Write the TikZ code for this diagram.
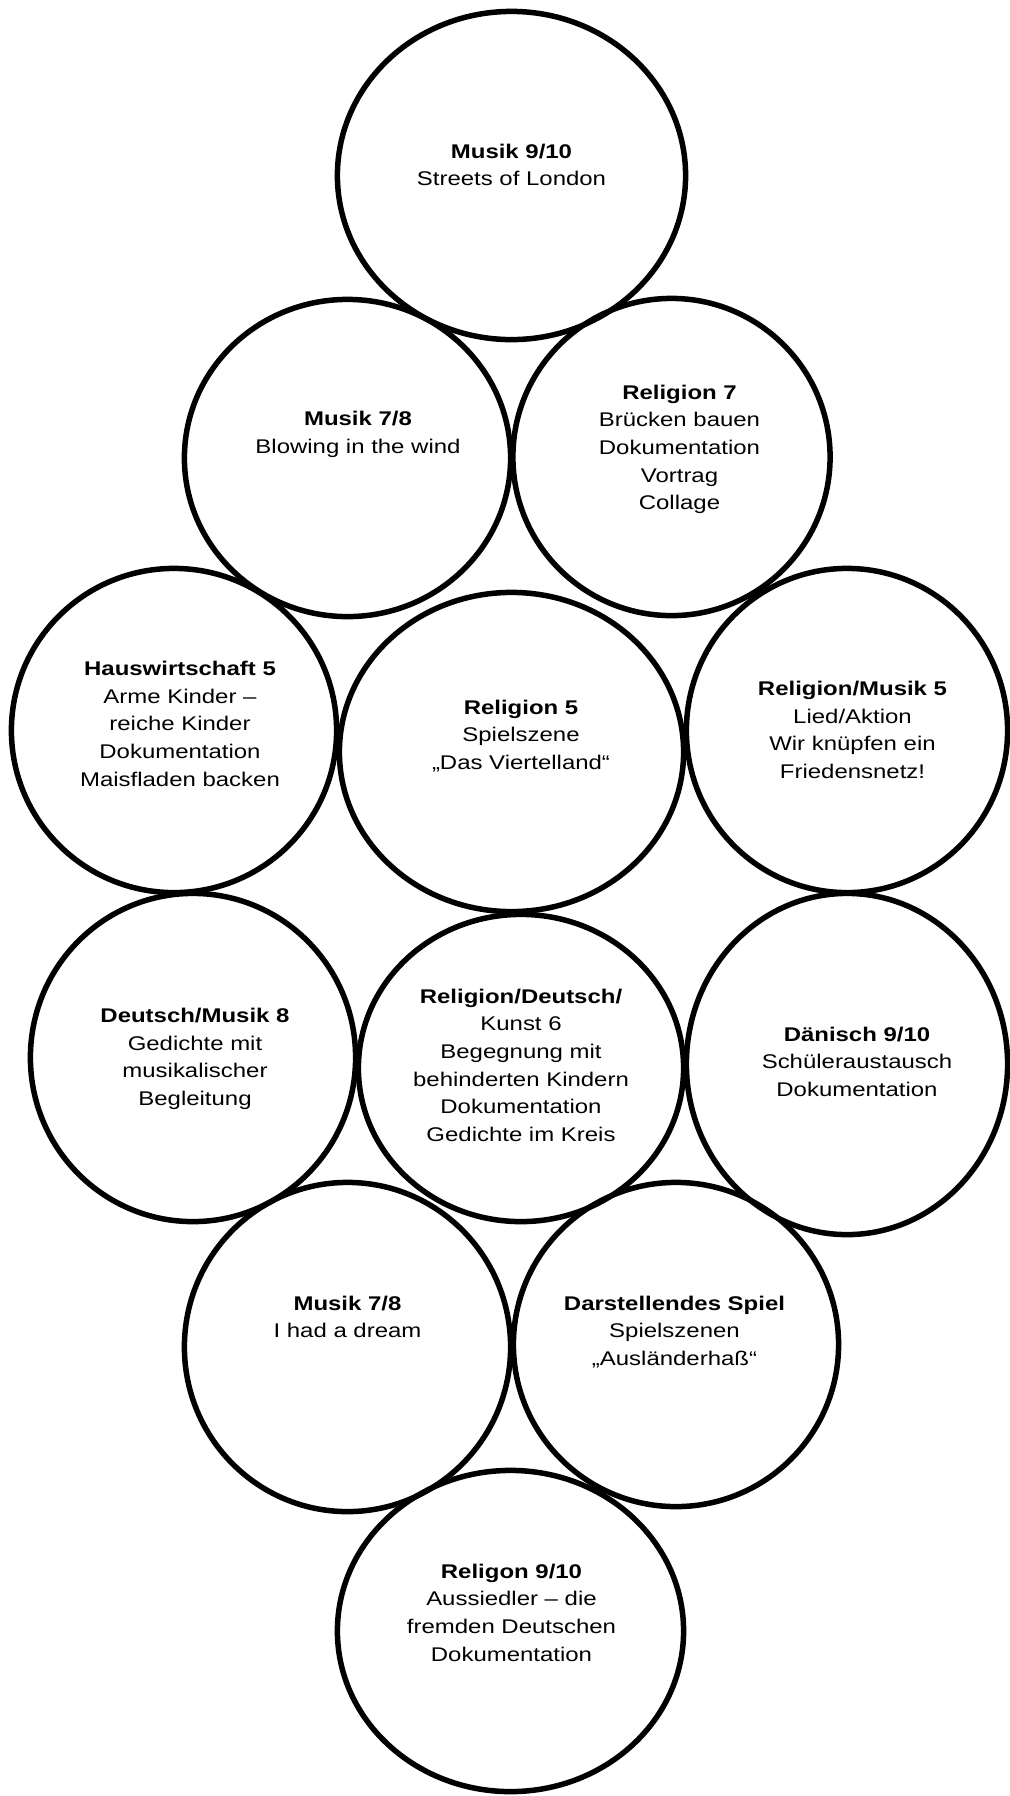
\documentclass[tikz,border=0pt]{standalone}
\usepackage{fontspec}
\usepackage{graphicx}
\usetikzlibrary{shapes.geometric}
\newfontfamily\lab{Liberation Sans}[FakeStretch=1.21]
\newcommand{\lines}[1]{\begin{tabular}[t]{@{}c@{}}#1\end{tabular}}
\begin{document}
\begin{tikzpicture}[x=0.5pt,y=-0.5pt,
  ring/.style={ellipse, draw=black, line width=2.75pt, inner sep=0pt, outer sep=0pt},
  lab/.style={anchor=base, inner sep=0pt, font=\lab\fontsize{9.9}{13.85}\selectfont}]
\useasboundingbox (0,0) rectangle (1009,1796);
% circles: sizes given in px of the path diameter, times 0.5pt
\node[ring, minimum width=348.2pt*0.5, minimum height=328.2pt*0.5] (c1) at (511.5,175.5) {};
\node[ring, minimum width=326.2pt*0.5, minimum height=317.2pt*0.5] (c2) at (347.5,458) {};
\node[ring, minimum width=317.2pt*0.5, minimum height=317.2pt*0.5] (c3) at (671.5,457) {};
\node[ring, minimum width=325.2pt*0.5, minimum height=324.2pt*0.5] (c4) at (174,730.5) {};
\node[ring, minimum width=344.2pt*0.5, minimum height=319.2pt*0.5] (c5) at (511.5,752) {};
\node[ring, minimum width=321.2pt*0.5, minimum height=324.2pt*0.5] (c6) at (847,730.5) {};
\node[ring, minimum width=325.2pt*0.5, minimum height=328.2pt*0.5] (c7) at (193,1057.5) {};
\node[ring, minimum width=325.2pt*0.5, minimum height=307.2pt*0.5] (c8) at (521,1068) {};
\node[ring, minimum width=321.2pt*0.5, minimum height=341.2pt*0.5] (c9) at (847,1064) {};
\node[ring, minimum width=326.2pt*0.5, minimum height=329.2pt*0.5] (c10) at (347.5,1347) {};
\node[ring, minimum width=325.2pt*0.5, minimum height=324.2pt*0.5] (c11) at (676,1344.5) {};
\node[ring, minimum width=346.2pt*0.5, minimum height=321.2pt*0.5] (c12) at (510.5,1631) {};
% texts
\node[lab] (t1) at (511.5,158) {\lines{\textbf{Musik 9/10}\\Streets of London}};
\node[lab] (t2) at (358,425.5) {\lines{\textbf{Musik 7/8}\\Blowing in the wind}};
\node[lab] (t3) at (679.5,399) {\lines{\textbf{Religion 7}\\Brücken bauen\\Dokumentation\\Vortrag\\Collage}};
\node[lab] (t4) at (180,675.5) {\lines{\textbf{Hauswirtschaft 5}\\Arme Kinder –\\reiche Kinder\\Dokumentation\\Maisfladen backen}};
\node[lab] (t5) at (521,714) {\lines{\textbf{Religion 5}\\Spielszene\\„Das Viertelland“}};
\node[lab] (t6) at (852.5,695.5) {\lines{\textbf{Religion/Musik 5}\\Lied/Aktion\\Wir knüpfen ein\\Friedensnetz!}};
\node[lab] (t7) at (195,1022.5) {\lines{\textbf{Deutsch/Musik 8}\\Gedichte mit\\musikalischer\\Begleitung}};
\node[lab] (t8) at (521,1003) {\lines{\textbf{Religion/Deutsch/}\\Kunst 6\\Begegnung mit\\behinderten Kindern\\Dokumentation\\Gedichte im Kreis}};
\node[lab] (t9) at (857,1041) {\lines{\textbf{Dänisch 9/10}\\Schüleraustausch\\Dokumentation}};
\node[lab] (t10) at (347.5,1310) {\lines{\textbf{Musik 7/8}\\I had a dream}};
\node[lab] (t11) at (674.5,1310) {\lines{\textbf{Darstellendes Spiel}\\Spielszenen\\„Ausländerhaß“}};
\node[lab] (t12) at (511.5,1578) {\lines{\textbf{Religon 9/10}\\Aussiedler – die\\fremden Deutschen\\Dokumentation}};
\end{tikzpicture}
\end{document}
